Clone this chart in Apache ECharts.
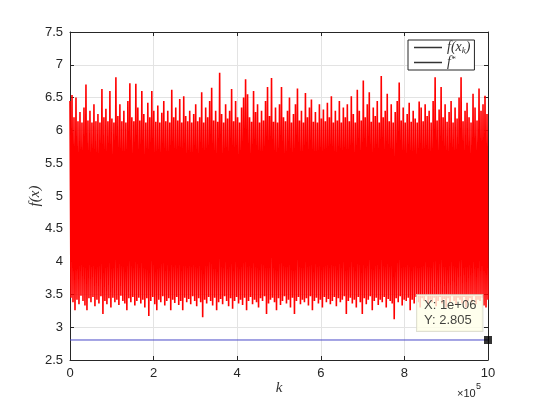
<!DOCTYPE html>
<html>
<head>
<meta charset="utf-8">
<script src="https://cdn.jsdelivr.net/npm/echarts@6/dist/echarts.min.js"></script>
<style>html,body{margin:0;padding:0;background:#fff}#c{width:540px;height:405px}</style>
</head>
<body>
<div id="c"></div>
<script>
var highs = [
6.45,6.54,6.2,6.5,6.14,6.28,6.12,6.35,6.7,6.15,
6.3,6.12,6.4,6.14,6.25,6.12,6.63,6.2,6.33,6.14,
6.6,6.18,6.12,6.81,6.22,6.4,6.14,6.3,6.12,6.45,
6.72,6.2,6.14,6.71,6.35,6.15,6.6,6.25,6.12,6.42,
6.2,6.6,6.3,6.13,6.38,6.12,6.27,6.45,6.14,6.3,
6.12,6.62,6.2,6.35,6.15,6.48,6.12,6.52,6.22,6.14,
6.3,6.12,6.25,6.4,6.14,6.2,6.58,6.12,6.35,6.2,
6.45,6.65,6.15,6.3,6.13,6.88,6.25,6.12,6.4,6.18,
6.3,6.63,6.14,6.45,6.2,6.12,6.35,6.5,6.78,6.55,
6.2,6.13,6.6,6.28,6.4,6.12,6.3,6.15,6.45,6.66,
6.22,6.8,6.13,6.35,6.12,6.4,6.66,6.2,6.14,6.3,
6.5,6.12,6.25,6.4,6.64,6.15,6.3,6.12,6.57,6.2,
6.35,6.47,6.13,6.28,6.12,6.4,6.18,6.32,6.14,6.42,
6.2,6.52,6.12,6.3,6.15,6.45,6.12,6.35,6.2,6.4,
6.14,6.52,6.25,6.12,6.62,6.3,6.15,6.76,6.2,6.4,
6.58,6.13,6.35,6.22,6.45,6.12,6.83,6.2,6.3,6.56,
6.14,6.4,6.12,6.28,6.45,6.73,6.15,6.35,6.12,6.25,
6.42,6.13,6.3,6.18,6.12,6.44,6.35,6.14,6.4,6.22,
6.3,6.12,6.45,6.81,6.15,6.32,6.66,6.2,6.4,6.13,
6.28,6.45,6.12,6.35,6.18,6.5,6.81,6.14,6.3,6.42,
6.2,6.12,6.56,6.35,6.15,6.64,6.3,6.4,6.53,6.25
];
// Sampled lower excursions of f(x_k)
var lows = [
3.45,3.38,3.26,3.42,3.35,3.48,3.4,3.33,3.26,3.44,
3.38,3.46,3.32,3.42,3.36,3.47,3.2,3.4,3.35,3.44,
3.3,3.45,3.38,3.42,3.34,3.48,3.4,3.36,3.26,3.44,
3.38,3.46,3.33,3.4,3.45,3.36,3.42,3.3,3.44,3.17,
3.4,3.46,3.35,3.26,3.42,3.38,3.47,3.33,3.4,3.44,
3.26,3.42,3.37,3.46,3.34,3.4,3.26,3.45,3.38,3.43,
3.35,3.47,3.4,3.32,3.44,3.38,3.15,3.42,3.36,3.46,
3.4,3.33,3.45,3.26,3.38,3.43,3.35,3.47,3.4,3.32,
3.44,3.28,3.4,3.46,3.36,3.42,3.34,3.45,3.26,3.4,
3.46,3.35,3.42,3.38,3.3,3.44,3.4,3.47,3.2,3.36,
3.42,3.45,3.38,3.26,3.44,3.34,3.4,3.47,3.36,3.42,
3.3,3.45,3.2,3.4,3.46,3.35,3.42,3.38,3.44,3.33,
3.47,3.26,3.4,3.45,3.36,3.42,3.3,3.46,3.38,3.43,
3.35,3.4,3.46,3.32,3.44,3.38,3.42,3.47,3.2,3.4,
3.45,3.36,3.42,3.3,3.46,3.38,3.2,3.44,3.35,3.42,
3.47,3.26,3.4,3.45,3.34,3.42,3.38,3.46,3.3,3.43,
3.4,3.36,3.12,3.44,3.38,3.47,3.33,3.42,3.4,3.45,
3.26,3.42,3.36,3.46,3.38,3.3,3.44,3.4,3.47,3.35,
3.42,3.38,3.45,3.32,3.4,3.46,3.36,3.43,3.3,3.44,
3.38,3.47,3.4,3.34,3.45,3.42,3.36,3.46,3.3,3.4,
3.44,3.38,3.47,3.35,3.42,3.4,3.45,3.33,3.3,3.42
];
var kMax = 1000000;
var fStar = 2.805;
var xTicks = ['0','2','4','6','8','10'];
var yTicks = ['2.5','3','3.5','4','4.5','5','5.5','6','6.5','7','7.5'];

var nPts = highs.length + lows.length;
var step = kMax / (nPts - 1);
var fxData = [];
for (var i = 0; i < highs.length; i++) {
  fxData.push([2 * i * step, highs[i]]);
  fxData.push([(2 * i + 1) * step, lows[i]]);
}
var starData = [[0, fStar], [kMax, fStar]];

var axisCol = '#262626';
var tickFont = 'Liberation Sans';
var chart = echarts.init(document.getElementById('c'), null, {renderer: 'canvas'});
chart.setOption({
  animation: false,
  backgroundColor: '#fff',
  grid: {left: 70, right: 52, top: 32, bottom: 45, containLabel: false},
  xAxis: [{
    type: 'value', min: 0, max: kMax, interval: 200000,
    axisLine: {show: true, onZero: false, lineStyle: {color: axisCol, width: 1}},
    axisTick: {show: true, inside: true, length: 4, lineStyle: {color: axisCol}},
    axisLabel: {color: axisCol, fontFamily: tickFont, fontSize: 13, margin: 7,
      formatter: function (v) { return xTicks[Math.round(v / 200000)]; }},
    splitLine: {show: true, lineStyle: {color: '#e3e3e3', width: 1}},
    name: 'k', nameLocation: 'middle', nameGap: 21, nameMoveOverlap: false,
    nameTextStyle: {fontFamily: 'Liberation Serif', fontStyle: 'italic', fontSize: 15, color: '#333'}
  }, {
    type: 'value', min: 0, max: kMax, interval: 200000, position: 'top',
    axisLine: {show: true, onZero: false, lineStyle: {color: axisCol, width: 1}},
    axisTick: {show: true, inside: true, length: 4, lineStyle: {color: axisCol}},
    axisLabel: {show: false}, splitLine: {show: false}
  }],
  yAxis: [{
    type: 'value', min: 2.5, max: 7.5, interval: 0.5,
    axisLine: {show: true, onZero: false, lineStyle: {color: axisCol, width: 1}},
    axisTick: {show: true, inside: true, length: 4, lineStyle: {color: axisCol}},
    axisLabel: {color: axisCol, fontFamily: tickFont, fontSize: 13, margin: 7,
      formatter: function (v) { return yTicks[Math.round((v - 2.5) / 0.5)]; }},
    splitLine: {show: true, lineStyle: {color: '#e3e3e3', width: 1}},
    name: 'f(x)', nameLocation: 'middle', nameGap: 27, nameRotate: 90, nameMoveOverlap: false,
    nameTextStyle: {fontFamily: 'Liberation Serif', fontStyle: 'italic', fontSize: 15, color: '#333'}
  }, {
    type: 'value', min: 2.5, max: 7.5, interval: 0.5, position: 'right',
    axisLine: {show: true, onZero: false, lineStyle: {color: axisCol, width: 1}},
    axisTick: {show: true, inside: true, length: 4, lineStyle: {color: axisCol}},
    axisLabel: {show: false}, splitLine: {show: false}
  }],
  legend: {
    orient: 'vertical', left: 408, top: 40,
    padding: [0, 4, 0, 6], itemGap: 0, itemWidth: 28, itemHeight: 1.5,
    icon: 'rect',
    backgroundColor: '#fff', borderColor: axisCol, borderWidth: 1, borderRadius: 0,
    data: [
      {name: 'fxk', itemStyle: {color: '#333'}},
      {name: 'fstar', itemStyle: {color: '#333'}}
    ],
    formatter: function (n) {
      return n === 'fxk' ? '{a|f(x}{s|k}{a|)}' : '{a|f}{p|*}';
    },
    textStyle: {
      color: '#333', fontFamily: 'Liberation Serif', fontStyle: 'italic', fontSize: 14, lineHeight: 15,
      rich: {
        a: {fontFamily: 'Liberation Serif', fontStyle: 'italic', fontSize: 14, color: '#333'},
        s: {fontFamily: 'Liberation Serif', fontStyle: 'italic', fontSize: 9, color: '#333', verticalAlign: 'bottom', padding: [5, 0, 0, 0]},
        p: {fontFamily: 'Liberation Serif', fontSize: 9, color: '#333', verticalAlign: 'top', padding: [0, 0, 3, 0]}
      }
    }
  },
  series: [{
    name: 'fxk', type: 'line', data: fxData, symbol: 'none', sampling: 'none',
    lineStyle: {color: '#ff0000', width: 1.6, join: 'bevel'}, itemStyle: {color: '#ff0000'}, z: 2
  }, {
    name: 'fstar', type: 'line', data: starData, symbol: 'none',
    lineStyle: {color: '#4848c8', width: 1}, itemStyle: {color: '#4848c8'}, z: 3
  }, {
    name: 'tip', type: 'scatter', data: [[kMax, fStar]], symbol: 'rect', symbolSize: 8,
    clip: false, z: 10,
    itemStyle: {color: '#000'},
    label: {
      show: true, position: [-67, -41],
      formatter: 'X: 1e+06\nY: 2.805',
      fontFamily: 'Liberation Sans', fontSize: 13, lineHeight: 15, color: '#111',
      backgroundColor: '#ffffe8', borderColor: '#d8d8c8', borderWidth: 1,
      padding: [3, 6, 3, 7], align: 'left'
    }
  }],
  graphic: [
    {type: 'text', left: 457, top: 388, style: {text: '×10', fontFamily: tickFont, fontSize: 11, fill: axisCol}},
    {type: 'text', left: 476, top: 382, style: {text: '5', fontFamily: tickFont, fontSize: 9, fill: axisCol}}
  ]
});
</script>
</body>
</html>
